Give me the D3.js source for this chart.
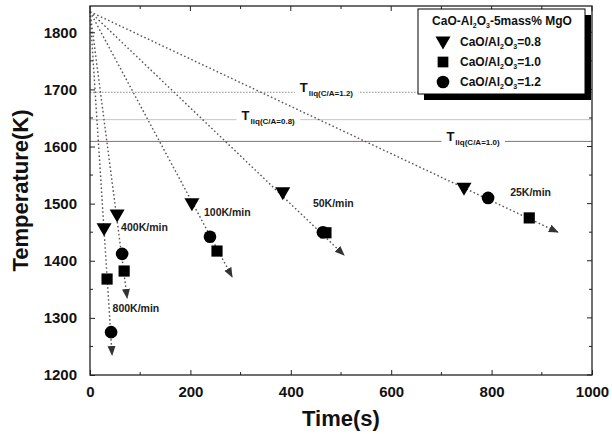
<!DOCTYPE html>
<html><head><meta charset="utf-8">
<script src="https://cdn.jsdelivr.net/npm/d3@7"></script>
<style>
body{margin:0;background:#fff;}
text{font-family:"Liberation Sans",Arial,sans-serif;font-weight:bold;}
</style></head>
<body><svg id="c" width="612" height="434"></svg>
<script>
// ---- data ----
const rateLabels = ["800K/min","400K/min","100K/min","50K/min","25K/min"];
const startTime = 0, startTemp = 1836;
const endTime  = [44, 74, 283, 506, 932];
const endTemp  = [1235, 1335, 1372, 1410, 1450];
const triTime  = [28, 54, 203, 384, 745];
const triTemp  = [1456, 1480, 1500, 1519, 1527];
const sqTime   = [34, 68, 253, 470, 875];
const sqTemp   = [1368, 1382, 1417, 1449, 1475];
const cirTime  = [42, 64, 239, 464, 793];
const cirTemp  = [1275, 1412, 1442, 1450, 1510];
const rateLabelTime = [45, 62, 227, 444, 837];
const rateLabelTemp = [1317, 1459, 1484, 1501, 1519];
const liqNames = ["liq(C/A=1.2)","liq(C/A=0.8)","liq(C/A=1.0)"];
const liqTemp  = [1695, 1647, 1609];
const liqLabelTime = [418, 302, 710];
const xTicks = [0,200,400,600,800,1000];
const yTicks = [1200,1300,1400,1500,1600,1700,1800];
const legendItems = ["0.8","1.0","1.2"];

// ---- scales ----
const svg = d3.select("#c");
const x = d3.scaleLinear().domain([0,1000]).range([90,592]);
const y = d3.scaleLinear().domain([1200,1846]).range([375,6]);

// liquidus lines
const liqStyle = [{c:"#8a8a8a",d:"1.5,1.5",w:1},{c:"#c4c4c4",d:null,w:1},{c:"#a86060",d:null,w:1}];
liqTemp.forEach((t,i)=>{
  svg.append("line").attr("x1",x(0)).attr("x2",x(1000)).attr("y1",y(t)).attr("y2",y(t))
    .attr("stroke",liqStyle[i].c).attr("stroke-width",liqStyle[i].w)
    .attr("stroke-dasharray",liqStyle[i].d);
});
liqTemp.forEach((t,i)=>{
  const g = svg.append("g");
  const tx = g.append("text").attr("x",x(liqLabelTime[i])).attr("y",y(t)).attr("font-size",13).attr("fill","#111");
  tx.append("tspan").text("T");
  tx.append("tspan").attr("font-size",8).attr("dy",4).attr("dx",1).text(liqNames[i]);
  const bb = tx.node().getBBox();
  g.insert("rect","text").attr("x",bb.x-5).attr("y",bb.y).attr("width",bb.width+10).attr("height",bb.height).attr("fill","#fff");
});

// arrow marker
const defs = svg.append("defs");
defs.append("marker").attr("id","arr").attr("viewBox","0 0 10 10").attr("refX",9).attr("refY",5)
  .attr("markerWidth",10).attr("markerHeight",10).attr("markerUnits","userSpaceOnUse")
  .attr("orient","auto").append("path").attr("d","M0,1 L10,5 L0,9 Z").attr("fill","#333");

// cooling lines
endTime.forEach((et,i)=>{
  svg.append("line").attr("x1",x(startTime)).attr("y1",y(startTemp)).attr("x2",x(et)).attr("y2",y(endTemp[i]))
    .attr("stroke","#555").attr("stroke-width",1.4).attr("stroke-dasharray","1.6,2.4")
    .attr("marker-end","url(#arr)");
});

// markers
const sym = (type,size)=>d3.symbol().type(type).size(size)();
const triDown = "M-7.5,-5.5 L7.5,-5.5 L0,7.5 Z";
triTime.forEach((t,i)=>svg.append("path").attr("d",triDown).attr("transform",`translate(${x(t)},${y(triTemp[i])})`).attr("fill","#000"));
sqTime.forEach((t,i)=>svg.append("path").attr("d",sym(d3.symbolSquare,125)).attr("transform",`translate(${x(t)},${y(sqTemp[i])})`).attr("fill","#000"));
cirTime.forEach((t,i)=>svg.append("path").attr("d",sym(d3.symbolCircle,125)).attr("transform",`translate(${x(t)},${y(cirTemp[i])})`).attr("fill","#000"));

// rate labels
rateLabels.forEach((r,i)=>svg.append("text").attr("x",x(rateLabelTime[i])).attr("y",y(rateLabelTemp[i])).attr("dy","0.35em")
  .attr("font-size",10.5).attr("fill","#222").text(r));

// frame
svg.append("rect").attr("x",x(0)).attr("y",y(1846)).attr("width",x(1000)-x(0)).attr("height",y(1200)-y(1846))
  .attr("fill","none").attr("stroke","#222").attr("stroke-width",1.3);

// ticks
const ax = d3.axisBottom(x).tickValues(xTicks).tickSize(-5).tickPadding(11).tickFormat(d3.format("d"));
const gx = svg.append("g").attr("transform",`translate(0,${y(1200)})`).call(ax);
const ay = d3.axisLeft(y).tickValues(yTicks).tickSize(-5).tickPadding(13).tickFormat(d3.format("d"));
const gy = svg.append("g").attr("transform",`translate(${x(0)},0)`).call(ay);
[gx,gy].forEach(g=>{g.select(".domain").remove(); g.selectAll("text").attr("font-size",15).attr("fill","#111").attr("font-family","Liberation Sans, Arial").attr("font-weight","bold"); g.selectAll("line").attr("stroke","#222");});
gx.selectAll("text").attr("dy","0.71em");
const xMinor = d3.range(100,1000,200);
xMinor.forEach(v=>{svg.append("line").attr("x1",x(v)).attr("x2",x(v)).attr("y1",y(1200)).attr("y2",y(1200)-3).attr("stroke","#222");
  svg.append("line").attr("x1",x(v)).attr("x2",x(v)).attr("y1",y(1846)).attr("y2",y(1846)+3).attr("stroke","#222");});
xTicks.forEach(v=>svg.append("line").attr("x1",x(v)).attr("x2",x(v)).attr("y1",y(1846)).attr("y2",y(1846)+5).attr("stroke","#222"));
const yMinor = d3.range(1250,1846,100);
yMinor.forEach(v=>{svg.append("line").attr("x1",x(0)).attr("x2",x(0)+3).attr("y1",y(v)).attr("y2",y(v)).attr("stroke","#222");
  svg.append("line").attr("x1",x(1000)).attr("x2",x(1000)-3).attr("y1",y(v)).attr("y2",y(v)).attr("stroke","#222");});
yTicks.forEach(v=>svg.append("line").attr("x1",x(1000)).attr("x2",x(1000)-5).attr("y1",y(v)).attr("y2",y(v)).attr("stroke","#222"));

// axis titles
svg.append("text").attr("x",(x(0)+x(1000))/2).attr("y",426).attr("text-anchor","middle").attr("font-size",22).attr("fill","#111").text("Time(s)");
svg.append("text").attr("transform",`translate(28,${(y(1200)+y(1846))/2}) rotate(-90)`).attr("text-anchor","middle").attr("font-size",22).attr("fill","#111").text("Temperature(K)");

// legend
const lg = svg.append("g");
lg.append("rect").attr("x",424).attr("y",15).attr("width",167).attr("height",85).attr("fill","#000");
lg.append("rect").attr("x",418).attr("y",9).attr("width",167).attr("height",85).attr("fill","#fff").attr("stroke","#000").attr("stroke-width",1);
const lt = lg.append("text").attr("x",502).attr("y",25).attr("text-anchor","middle").attr("font-size",12).attr("fill","#111");
lt.append("tspan").text("CaO-Al");
lt.append("tspan").attr("font-size",7).attr("dy",3).text("2");
lt.append("tspan").attr("dy",-3).text("O");
lt.append("tspan").attr("font-size",7).attr("dy",3).text("3");
lt.append("tspan").attr("dy",-3).text("-5mass% MgO");
const legSyms = [triDown, sym(d3.symbolSquare,115), sym(d3.symbolCircle,125)];
legendItems.forEach((v,i)=>{
  const yy = 42 + i*20;
  lg.append("path").attr("d",legSyms[i]).attr("transform",`translate(443,${yy})`).attr("fill","#000");
  const t = lg.append("text").attr("x",460).attr("y",yy+4).attr("font-size",12).attr("fill","#111");
  t.append("tspan").text("CaO/Al");
  t.append("tspan").attr("font-size",7).attr("dy",3).text("2");
  t.append("tspan").attr("dy",-3).text("O");
  t.append("tspan").attr("font-size",7).attr("dy",3).text("3");
  t.append("tspan").attr("dy",-3).text("="+v);
});
</script></body></html>
